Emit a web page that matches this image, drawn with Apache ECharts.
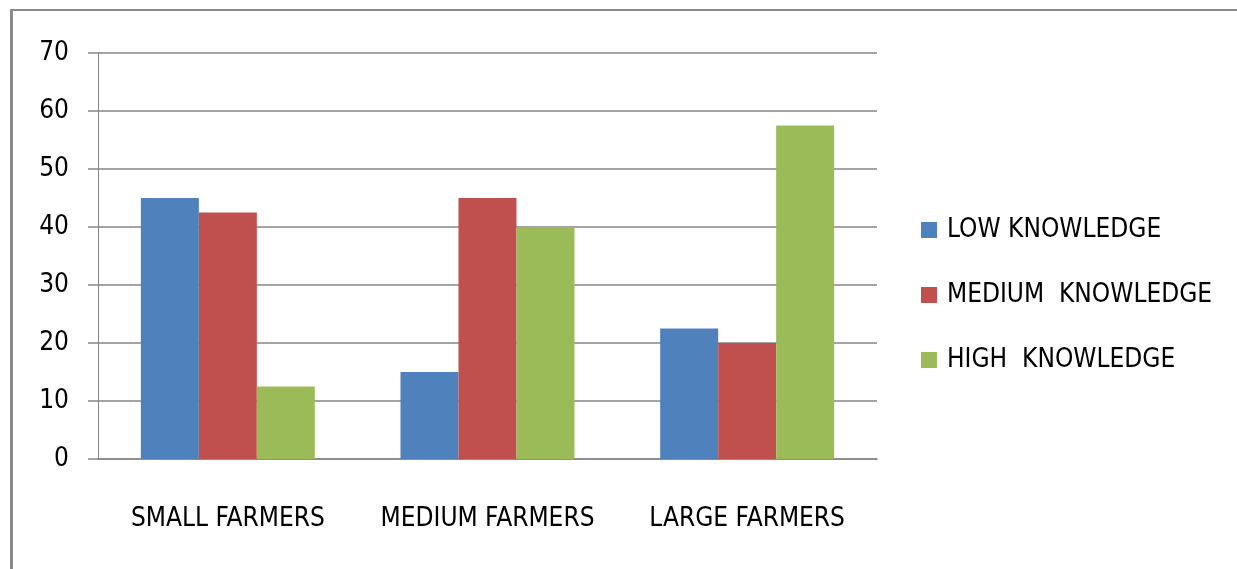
<!DOCTYPE html>
<html>
<head>
<meta charset="utf-8">
<script src="https://cdn.jsdelivr.net/npm/echarts@6/dist/echarts.min.js"></script>
<style>
  html, body { margin: 0; padding: 0; background: #fff; }
  #frame {
    position: absolute;
    left: 10px;
    top: 9px;
    width: 1240px;
    height: 580px;
    border-left: 3px solid #8a8a8a;
    border-top: 2px solid #8a8a8a;
  }
  #chart { position: absolute; left: 0; top: 0; width: 1237px; height: 569px; }
</style>
</head>
<body>
<div id="frame"></div>
<div id="chart"></div>
<script>
  // categories and values
  const categories = ['SMALL FARMERS', 'MEDIUM FARMERS', 'LARGE FARMERS']
  const lowKnowledge = [45, 15, 22.5]
  const mediumKnowledge = [42.5, 45, 20]
  const highKnowledge = [12.5, 40, 57.5]
  const seriesNames = ['LOW KNOWLEDGE', 'MEDIUM  KNOWLEDGE', 'HIGH  KNOWLEDGE']

  const font = '"Liberation Sans Narrow", "DejaVu Sans Condensed", sans-serif'
  const gray = '#868686'

  const chart = echarts.init(document.getElementById('chart'))

  const option = {
    animation: false,
    textStyle: { fontFamily: font },
    color: ['#4F81BD', '#C0504D', '#9BBB59'],
    grid: { left: 98, right: 360, top: 53, bottom: 110 },
    legend: {
      orient: 'vertical',
      left: 921,
      top: 217,
      padding: 0,
      itemWidth: 16,
      itemHeight: 16,
      itemGap: 39,
      icon: 'rect',
      data: seriesNames,
      textStyle: { fontFamily: font, fontSize: 26, color: '#000', lineHeight: 26, padding: [0, 0, 0, 5] }
    },
    xAxis: {
      type: 'category',
      data: categories,
      axisLine: { lineStyle: { color: gray, width: 1.5 } },
      axisTick: { length: 10, lineStyle: { color: gray, width: 1.5 } },
      axisLabel: { interval: 0, margin: 47, fontSize: 26, color: '#000', fontFamily: font }
    },
    yAxis: {
      type: 'value',
      min: 0,
      max: 70,
      interval: 10,
      axisLine: { show: true, lineStyle: { color: gray, width: 1 } },
      axisTick: { show: true, length: 10, lineStyle: { color: gray, width: 1.5 } },
      splitLine: { lineStyle: { color: gray, width: 1.5 } },
      axisLabel: { margin: 29, fontSize: 26, color: '#000', fontFamily: font }
    },
    series: [
      { name: seriesNames[0], type: 'bar', data: lowKnowledge, barGap: 0, barCategoryGap: '33%' },
      { name: seriesNames[1], type: 'bar', data: mediumKnowledge, barGap: 0, barCategoryGap: '33%' },
      { name: seriesNames[2], type: 'bar', data: highKnowledge, barGap: 0, barCategoryGap: '33%' }
    ]
  }

  chart.setOption(option)
</script>
</body>
</html>
